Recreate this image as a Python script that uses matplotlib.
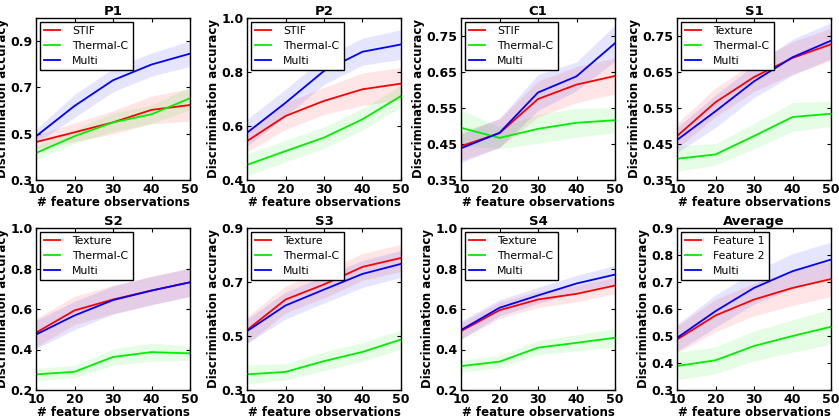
import numpy as np
import matplotlib
matplotlib.use("Agg")
import matplotlib.pyplot as plt

x_obs = [10, 20, 30, 40, 50]

titles = ["P1", "P2", "C1", "S1", "S2", "S3", "S4", "Average"]
labels = [
    ["STIF", "Thermal-C", "Multi"],
    ["STIF", "Thermal-C", "Multi"],
    ["STIF", "Thermal-C", "Multi"],
    ["Texture", "Thermal-C", "Multi"],
    ["Texture", "Thermal-C", "Multi"],
    ["Texture", "Thermal-C", "Multi"],
    ["Texture", "Thermal-C", "Multi"],
    ["Feature 1", "Feature 2", "Multi"],
]

# mean accuracy per panel: (first feature, second feature, multi)
p1 = ([0.464, 0.506, 0.549, 0.603, 0.624],
      [0.417, 0.489, 0.549, 0.584, 0.653],
      [0.489, 0.620, 0.731, 0.799, 0.846])
p2 = ([0.544, 0.637, 0.693, 0.736, 0.757],
      [0.456, 0.507, 0.557, 0.625, 0.711],
      [0.575, 0.686, 0.804, 0.875, 0.902])
c1 = ([0.444, 0.480, 0.575, 0.615, 0.639],
      [0.495, 0.467, 0.492, 0.509, 0.516],
      [0.438, 0.481, 0.593, 0.638, 0.730])
s1 = ([0.472, 0.566, 0.636, 0.689, 0.727],
      [0.409, 0.421, 0.472, 0.525, 0.534],
      [0.461, 0.541, 0.624, 0.691, 0.737])
s2 = ([0.483, 0.593, 0.647, 0.691, 0.732],
      [0.277, 0.290, 0.363, 0.387, 0.381],
      [0.474, 0.568, 0.644, 0.691, 0.732])
s3 = ([0.522, 0.635, 0.691, 0.756, 0.789],
      [0.358, 0.367, 0.407, 0.441, 0.487],
      [0.518, 0.613, 0.672, 0.730, 0.767])
s4 = ([0.491, 0.594, 0.647, 0.675, 0.716],
      [0.318, 0.340, 0.409, 0.433, 0.458],
      [0.496, 0.606, 0.667, 0.726, 0.770])
avg = ([0.487, 0.576, 0.635, 0.678, 0.711],
       [0.389, 0.410, 0.463, 0.500, 0.534],
       [0.493, 0.592, 0.678, 0.740, 0.783])
means = [p1, p2, c1, s1, s2, s3, s4, avg]

# half-width of the shaded band per panel: (first, second, multi)
spreads = [
    ([0.03, 0.04, 0.05, 0.06, 0.07], [0.03, 0.03, 0.04, 0.04, 0.05], [0.03, 0.05, 0.05, 0.05, 0.055]),
    ([0.04, 0.05, 0.05, 0.06, 0.06], [0.04, 0.04, 0.04, 0.04, 0.04], [0.05, 0.05, 0.05, 0.05, 0.055]),
    ([0.04, 0.04, 0.05, 0.05, 0.05], [0.05, 0.03, 0.04, 0.04, 0.035], [0.04, 0.04, 0.05, 0.04, 0.05]),
    ([0.035, 0.04, 0.04, 0.045, 0.045], [0.035, 0.03, 0.035, 0.04, 0.035], [0.035, 0.045, 0.045, 0.05, 0.05]),
    ([0.07, 0.07, 0.07, 0.07, 0.07], [0.03, 0.03, 0.04, 0.045, 0.035], [0.07, 0.07, 0.07, 0.07, 0.07]),
    ([0.05, 0.05, 0.05, 0.05, 0.05], [0.035, 0.03, 0.035, 0.035, 0.035], [0.045, 0.05, 0.05, 0.05, 0.05]),
    ([0.04, 0.04, 0.04, 0.04, 0.04], [0.03, 0.03, 0.035, 0.04, 0.045], [0.045, 0.04, 0.04, 0.04, 0.045]),
    ([0.05, 0.06, 0.06, 0.065, 0.065], [0.05, 0.05, 0.055, 0.06, 0.065], [0.05, 0.06, 0.06, 0.065, 0.065]),
]

ylims = [(0.3, 1.0), (0.4, 1.0), (0.35, 0.8), (0.35, 0.8),
         (0.2, 1.0), (0.3, 0.9), (0.2, 1.0), (0.3, 0.9)]
yticks = [
    [0.3, 0.5, 0.7, 0.9],
    [0.4, 0.6, 0.8, 1.0],
    [0.35, 0.45, 0.55, 0.65, 0.75],
    [0.35, 0.45, 0.55, 0.65, 0.75],
    [0.2, 0.4, 0.6, 0.8, 1.0],
    [0.3, 0.5, 0.7, 0.9],
    [0.2, 0.4, 0.6, 0.8, 1.0],
    [0.3, 0.4, 0.5, 0.6, 0.7, 0.8, 0.9],
]

colors = ["#ff0000", "#00ee00", "#0000ff"]

W, H = 839, 420
fig = plt.figure(figsize=(W / 100, H / 100), dpi=100)

lefts = [36, 247, 461, 677]
tops = [18, 228]
aw, ah = 154, 162

for i in range(8):
    row, col = divmod(i, 4)
    ax = fig.add_axes([lefts[col] / W, (H - tops[row] - ah) / H, aw / W, ah / H])
    for k in range(3):
        m = np.array(means[i][k])
        s = np.array(spreads[i][k])
        ax.fill_between(x_obs, m - s, m + s, color=colors[k], alpha=0.1, lw=0)
        ax.plot(x_obs, m, color=colors[k], lw=1.3, label=labels[i][k])
    ax.set_xlim(10, 50)
    ax.set_ylim(*ylims[i])
    ax.set_xticks([10, 20, 30, 40, 50])
    ax.set_yticks(yticks[i])
    if ylims[i][0] == 0.35:
        ax.set_yticklabels(["%.2f" % t for t in yticks[i]])
    else:
        ax.set_yticklabels(["%.1f" % t for t in yticks[i]])
    ax.tick_params(direction="in", top=True, right=True, length=3, pad=2.5,
                   labelsize=9)
    for lab in ax.get_xticklabels() + ax.get_yticklabels():
        lab.set_fontweight("bold")
    for sp in ax.spines.values():
        sp.set_linewidth(1.0)
    ax.set_title(titles[i], fontsize=9.5, fontweight="bold", pad=2)
    ax.set_xlabel("# feature observations", fontsize=8.5, fontweight="bold", labelpad=0)
    ax.set_ylabel("Discrimination accuracy", fontsize=8.5, fontweight="bold", labelpad=1)
    leg = ax.legend(loc="upper left", fontsize=7.8, fancybox=False, framealpha=1,
                    edgecolor="black", handlelength=1.5, handletextpad=1.1,
                    borderpad=0.4, labelspacing=0.45, borderaxespad=0.35)
    leg.get_frame().set_linewidth(1.0)

fig.savefig("out.png", dpi=100)
